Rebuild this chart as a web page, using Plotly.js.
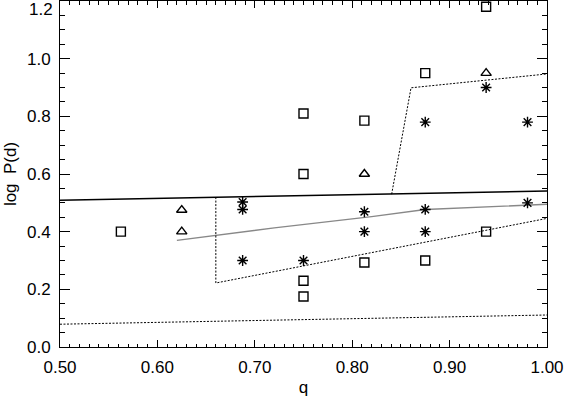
<!DOCTYPE html>
<html>
<head>
<meta charset="utf-8">
<script src="https://cdn.plot.ly/plotly-3.0.1.min.js"></script>
<style>
  html, body { margin: 0; padding: 0; background: #fff; }
  #plot { width: 566px; height: 397px; }
</style>
</head>
<body>
<div id="plot"></div>
<script>
// observed systems (q, log P)
const qSquare = [0.5625, 0.75, 0.75, 0.75, 0.75, 0.8125, 0.8125, 0.875, 0.875, 0.9375, 0.9375];
const pSquare = [0.40, 0.60, 0.81, 0.23, 0.175, 0.785, 0.293, 0.95, 0.30, 1.18, 0.40];

const qTri = [0.625, 0.625, 0.8125, 0.9375];
const pTri = [0.475, 0.40, 0.60, 0.95];

const qStar = [0.6875, 0.6875, 0.6875, 0.75, 0.8125, 0.8125, 0.875, 0.875, 0.875, 0.9375, 0.98, 0.98];
const pStar = [0.503, 0.477, 0.30, 0.30, 0.469, 0.40, 0.477, 0.40, 0.78, 0.90, 0.50, 0.78];

// model curves
const qUpper = [0.50, 1.00];
const pUpper = [0.509, 0.541];

const qLower = [0.50, 1.00];
const pLower = [0.079, 0.111];

const qGray = [0.62, 0.72, 0.82, 0.875, 1.00];
const pGray = [0.370, 0.413, 0.452, 0.477, 0.495];

const qBoxLow = [0.66, 0.66, 1.00];
const pBoxLow = [0.52, 0.222, 0.446];

const qBoxHigh = [0.8405, 0.8604, 1.00];
const pBoxHigh = [0.530, 0.899, 0.947];

const xTicks = [0.5, 0.6, 0.7, 0.8, 0.9, 1.0];
const xTickText = ["0.50", "0.60", "0.70", "0.80", "0.90", "1.00"];
const yTicks = [0.0, 0.2, 0.4, 0.6, 0.8, 1.0, 1.2];
const yTickText = ["0.0", "0.2", "0.4", "0.6", "0.8", "1.0", ""];

const font = { family: "Liberation Sans, Arial, sans-serif", size: 17, color: "#000" };

function line(x, y, color, width, dash) {
    return { x: x, y: y, mode: "lines", line: { color: color, width: width, dash: dash }, hoverinfo: "skip" };
}

function markers(x, y, symbol, size) {
    return {
        x: x, y: y, mode: "markers",
        marker: { symbol: symbol, size: size, color: "#000", line: { color: "#000", width: 1.4 } },
    };
}

const traces = [
    line(qUpper, pUpper, "#000", 1.4, "solid"),
    line(qLower, pLower, "#000", 1, "2px,1.5px"),
    line(qGray, pGray, "#888", 1.4, "solid"),
    line(qBoxLow, pBoxLow, "#000", 1, "2px,1.5px"),
    line(qBoxHigh, pBoxHigh, "#000", 1, "2px,1.5px"),
    markers(qSquare, pSquare, "square-open", 9),
    markers(qTri, pTri, "triangle-up-open", 9),
    markers(qStar, pStar, "asterisk-open", 9),
];

const axisCommon = {
    showgrid: false,
    zeroline: false,
    showline: true,
    linecolor: "#000",
    linewidth: 1,
    mirror: "ticks",
    ticks: "inside",
    tickcolor: "#000",
    tickwidth: 1,
    tickfont: font,
};

const layout = {
    width: 566,
    height: 397,
    margin: { l: 60, r: 19, t: 1, b: 50 },
    paper_bgcolor: "#fff",
    plot_bgcolor: "#fff",
    showlegend: false,
    font: font,
    xaxis: {
        ...axisCommon,
        range: [0.5, 1.0],
        tickvals: xTicks,
        ticktext: xTickText,
        ticklen: 7,
        minor: { dtick: 0.01, ticklen: 3.5, ticks: "inside", tickcolor: "#000", tickwidth: 1 },
        ticklabelstandoff: 5,
        title: { text: "q", font: font, standoff: 4 },
    },
    yaxis: {
        ...axisCommon,
        range: [0.0, 1.2],
        tickvals: yTicks,
        ticktext: yTickText,
        ticklen: 10,
        minor: { dtick: 0.05, ticklen: 5, ticks: "inside", tickcolor: "#000", tickwidth: 1 },
        ticklabelstandoff: 5,
        title: { text: "log  P(d)", font: font, standoff: 6 },
    },
    annotations: [
        {
            text: "1.2", xref: "paper", yref: "y", x: 0, y: 1.2,
            xanchor: "right", yanchor: "top", xshift: -5, yshift: 3,
            showarrow: false, font: font,
        },
    ],
};

Plotly.newPlot("plot", traces, layout, { displayModeBar: false, staticPlot: true });
</script>
</body>
</html>
